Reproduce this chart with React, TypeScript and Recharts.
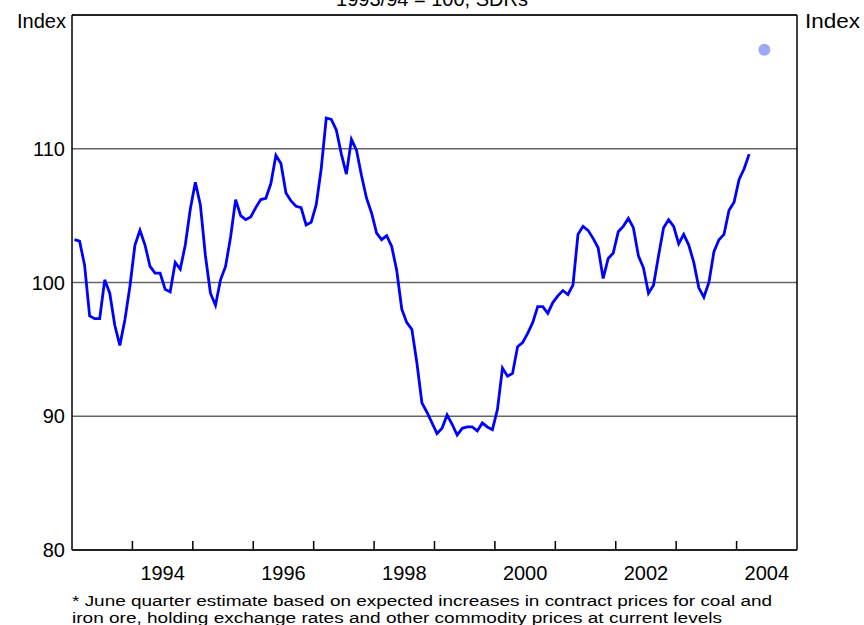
import React from 'react';
import {
  ComposedChart, Line, Scatter, XAxis, YAxis, CartesianGrid, ReferenceLine,
} from 'recharts';

// Monthly commodity price index, Jan 1993 to Mar 2004 (1993/94 = 100, SDRs)
const startYear = 1993;
const monthlyIndex = [
  // 1993
  103.2, 103.1, 101.3, 97.5, 97.3, 97.3, 100.2, 99.2, 96.8, 95.3, 97.2, 99.7,
  // 1994
  102.8, 103.9, 102.8, 101.2, 100.7, 100.7, 99.5, 99.3, 101.5, 101.0, 102.8, 105.5,
  // 1995
  107.5, 105.8, 102.0, 99.2, 98.3, 100.2, 101.2, 103.4, 106.2, 105.0, 104.7, 104.9,
  // 1996
  105.6, 106.2, 106.3, 107.4, 109.5, 108.9, 106.7, 106.1, 105.7, 105.6, 104.3, 104.5,
  // 1997
  105.8, 108.5, 112.3, 112.2, 111.4, 109.6, 108.1, 110.7, 109.9, 108.0, 106.3, 105.2,
  // 1998
  103.7, 103.2, 103.5, 102.7, 100.9, 98.0, 97.0, 96.5, 94.0, 91.0, 90.3, 89.5,
  // 1999
  88.7, 89.1, 90.1, 89.4, 88.6, 89.1, 89.2, 89.2, 88.9, 89.5, 89.2, 89.0,
  // 2000
  90.5, 93.6, 93.0, 93.2, 95.2, 95.5, 96.2, 97.0, 98.2, 98.2, 97.7, 98.5,
  // 2001
  99.0, 99.4, 99.1, 99.8, 103.6, 104.2, 103.9, 103.3, 102.6, 100.3, 101.8, 102.2,
  // 2002
  103.8, 104.2, 104.8, 104.1, 102.0, 101.1, 99.2, 99.8, 102.0, 104.1, 104.7, 104.2,
  // 2003
  102.9, 103.6, 102.8, 101.5, 99.6, 98.9, 100.0, 102.3, 103.2, 103.6, 105.4, 106.0,
  // 2004
  107.7, 108.5, 109.6,
];

// June quarter 2004 estimate
const estimateTime = [2004.46];
const estimateValue = [117.4];

const yearTicks = [1994, 1995, 1996, 1997, 1998, 1999, 2000, 2001, 2002, 2003, 2004];
const indexTicks = [80, 90, 100, 110, 120];

const data = monthlyIndex.map((v, i) => ({ t: startYear + (i + 0.5) / 12, v }));
const estimate = estimateTime.map((t, i) => ({ t, v: estimateValue[i] }));

const W = 864;
const H = 625;
const LEFT_W = 72;
const RIGHT_W = 67;
const HALF_YEAR = (W - LEFT_W - RIGHT_W) / 12 / 2;
const FONT = '"Liberation Sans", Arial, sans-serif';

const YearTick = (props: any) => {
  const { x, y, payload } = props;
  const year = payload.value;
  return (
    <g>
      <line x1={x} x2={x} y1={y} y2={y - 9} stroke="#000" strokeWidth={1.5} />
      {year % 2 === 0 && (
        <text x={x + HALF_YEAR} y={y + 30} textAnchor="middle" fontSize={20} fontFamily={FONT} fill="#000">
          {year}
        </text>
      )}
    </g>
  );
};

const hideTop = (v: number) => (v === 120 ? '' : String(v));

export default function App() {
  return (
    <div style={{ position: 'absolute', left: 0, top: 0, width: W, height: H }}>
      <ComposedChart width={W} height={H} data={data} margin={{ top: 15, right: 0, bottom: 0, left: 0 }}>
        <CartesianGrid vertical={false} stroke="#666" strokeWidth={1.5} />
        <XAxis
          dataKey="t"
          type="number"
          domain={[1993, 2005]}
          ticks={yearTicks}
          interval={0}
          height={75}
          tickSize={0}
          tickMargin={0}
          tickLine={false}
          axisLine={{ stroke: '#000', strokeWidth: 1.5 }}
          tick={(p: any) => <YearTick {...p} />}
        />
        <YAxis
          domain={[80, 120]}
          ticks={indexTicks}
          width={LEFT_W}
          tickSize={0}
          tickMargin={7}
          tickLine={false}
          tickFormatter={hideTop}
          axisLine={{ stroke: '#000', strokeWidth: 1.5 }}
          tick={{ fill: '#000', fontSize: 20, fontFamily: FONT }}
        />
        <YAxis
          yAxisId="right"
          orientation="right"
          domain={[80, 120]}
          ticks={indexTicks}
          width={RIGHT_W}
          tickSize={0}
          tickMargin={10}
          tickLine={false}
          tickFormatter={hideTop}
          axisLine={{ stroke: '#000', strokeWidth: 1.5 }}
          tick={{ fill: '#000', fontSize: 20, fontFamily: FONT }}
        />
        <ReferenceLine y={120} stroke="#000" strokeWidth={1.5} />
        <Line
          dataKey="v"
          type="linear"
          stroke="#0000ff"
          strokeWidth={2.8}
          dot={false}
          isAnimationActive={false}
        />
        <Scatter
          data={estimate}
          dataKey="v"
          fill="#a0a8f6"
          isAnimationActive={false}
          shape={(p: any) => <circle cx={p.cx} cy={p.cy} r={6} fill="#a0a8f6" />}
        />
      </ComposedChart>
      <svg width={W} height={H} style={{ position: 'absolute', left: 0, top: 0, pointerEvents: 'none' }}>
        <g fontFamily={FONT} fill="#000">
          <text x={432} y={6} textAnchor="middle" fontSize={20}>1993/94 = 100, SDRs</text>
          <text x={66} y={28} textAnchor="end" fontSize={20}>Index</text>
          <text x={805} y={28} textAnchor="start" fontSize={20} textLength={55} lengthAdjust="spacingAndGlyphs">Index</text>
          <text x={72} y={606} fontSize={15.5} textLength={700} lengthAdjust="spacingAndGlyphs">
            * June quarter estimate based on expected increases in contract prices for coal and
          </text>
          <text x={72} y={623} fontSize={15.5} textLength={650} lengthAdjust="spacingAndGlyphs">
            iron ore, holding exchange rates and other commodity prices at current levels
          </text>
        </g>
      </svg>
    </div>
  );
}
